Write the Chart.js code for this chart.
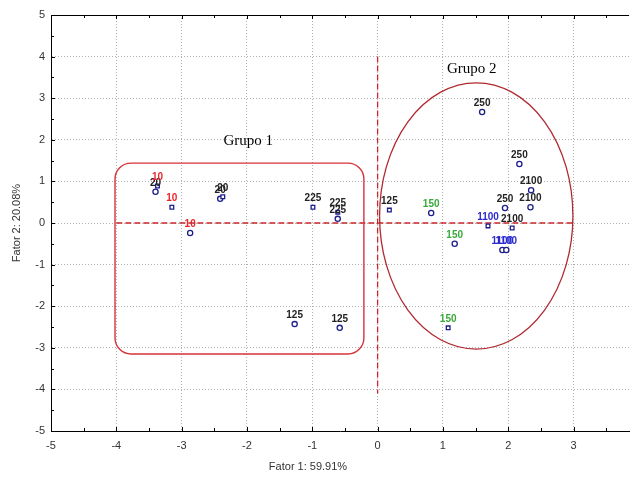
<!DOCTYPE html>
<html><head><meta charset="utf-8">
<script src="https://cdn.jsdelivr.net/npm/chart.js@4/dist/chart.umd.min.js"></script>
<style>html,body{margin:0;padding:0;background:#fff;}canvas{display:block;}</style>
</head><body>
<canvas id="c" width="633" height="477"></canvas>
<script>
// Data
const factor1 = [-3.40,-3.37,-3.15,-2.87,-2.41,-2.37,-0.99,-0.61,-0.61,0.18,-1.27,-0.58,1.60,2.17,2.35,1.95,2.34,0.82,1.18,1.08,1.69,2.06,1.91,1.97];
const factor2 = [0.75,0.89,0.38,-0.24,0.58,0.63,0.38,0.26,0.10,0.31,-2.43,-2.52,2.67,1.42,0.79,0.36,0.38,0.24,-0.50,-2.52,-0.07,-0.12,-0.65,-0.65];
const pointLabels = ["20","10","10","10","20","20","225","225","225","125","125","125","250","250","2100","250","2100","150","150","150","1100","2100","1100","1100"];
const markerShapes = ["circle","rect","rect","circle","circle","rect","rect","rect","circle","rect","circle","circle","circle","circle","circle","circle","circle","circle","circle","rect","rect","rect","circle","circle"];
const xTicks = [-5,-4,-3,-2,-1,0,1,2,3];
const yTicks = [5,4,3,2,1,0,-1,-2,-3,-4,-5];
const groupNames = ["Grupo 1","Grupo 2"];
const axisTitles = ["Fator 1: 59.91%","Fator 2: 20.08%"];

const X_MAX = 3.85;
const labelColors = {"10":"#e8262c","150":"#3aa83a","1100":"#2a2ad0"};
const pts = factor1.map((x,i)=>({x:x,y:factor2[i]}));

const overlay = {
  id:'overlay',
  beforeDatasetsDraw(chart){
    const ctx = chart.ctx, xs = chart.scales.x, ys = chart.scales.y, ca = chart.chartArea;
    ctx.save();
    ctx.strokeStyle = '#000'; ctx.lineWidth = 1;
    ctx.beginPath(); ctx.moveTo(ca.left, Math.round(ca.top)+0.5); ctx.lineTo(ca.right, Math.round(ca.top)+0.5); ctx.stroke();
    for (let v=-5; v<=X_MAX; v+=0.5){
      const px = Math.round(xs.getPixelForValue(v))+0.5;
      const len = (Math.abs(v-Math.round(v))<1e-6)?4:3;
      ctx.beginPath(); ctx.moveTo(px, ca.bottom); ctx.lineTo(px, ca.bottom-len); ctx.stroke();
      ctx.beginPath(); ctx.moveTo(px, ca.top); ctx.lineTo(px, ca.top+len); ctx.stroke();
    }
    for (let v=-5; v<=5; v+=0.5){
      const py = Math.round(ys.getPixelForValue(v))+0.5;
      const len = (Math.abs(v-Math.round(v))<1e-6)?4:3;
      ctx.beginPath(); ctx.moveTo(ca.left, py); ctx.lineTo(ca.left+len, py); ctx.stroke();
    }
    ctx.strokeStyle = '#c8282d'; ctx.lineWidth = 1.3; ctx.setLineDash([6,3]);
    ctx.beginPath();
    ctx.moveTo(xs.getPixelForValue(-4), ys.getPixelForValue(0));
    ctx.lineTo(xs.getPixelForValue(3), ys.getPixelForValue(0));
    ctx.stroke();
    ctx.beginPath();
    ctx.moveTo(xs.getPixelForValue(0), ys.getPixelForValue(4));
    ctx.lineTo(xs.getPixelForValue(0), ys.getPixelForValue(-4.1));
    ctx.stroke();
    ctx.setLineDash([]);
    const x1 = xs.getPixelForValue(-4.02), x2 = xs.getPixelForValue(-0.21);
    const y1 = ys.getPixelForValue(1.44), y2 = ys.getPixelForValue(-3.15);
    ctx.strokeStyle = '#d8323a'; ctx.lineWidth = 1.4;
    ctx.beginPath(); ctx.roundRect(x1, y1, x2-x1, y2-y1, 16); ctx.stroke();
    const cx = xs.getPixelForValue(1.51), cy = ys.getPixelForValue(0.17);
    const rx = xs.getPixelForValue(1.51+1.48)-cx, ry = cy-ys.getPixelForValue(0.17+3.2);
    ctx.strokeStyle = '#b02a30'; ctx.lineWidth = 1.3;
    ctx.beginPath(); ctx.ellipse(cx, cy, rx, ry, 0, 0, Math.PI*2); ctx.stroke();
    ctx.fillStyle = '#000'; ctx.font = '15px "Liberation Serif", serif';
    ctx.textAlign = 'center'; ctx.textBaseline = 'middle';
    ctx.fillText(groupNames[0], xs.getPixelForValue(-1.98), ys.getPixelForValue(1.97));
    ctx.fillText(groupNames[1], xs.getPixelForValue(1.44), ys.getPixelForValue(3.70));
    ctx.restore();
  },
  afterDatasetsDraw(chart){
    const ctx = chart.ctx, xs = chart.scales.x, ys = chart.scales.y, ca = chart.chartArea;
    ctx.save();
    ctx.font = 'bold 10px "Liberation Sans", Arial, sans-serif';
    ctx.textAlign = 'center'; ctx.textBaseline = 'alphabetic';
    pts.forEach((p,i)=>{
      const lbl = pointLabels[i];
      ctx.fillStyle = labelColors[lbl] || '#222';
      ctx.fillText(lbl, xs.getPixelForValue(p.x), ys.getPixelForValue(p.y)-6);
    });
    ctx.fillStyle = '#333'; ctx.font = '11px "Liberation Sans", Arial, sans-serif';
    ctx.textBaseline = 'middle';
    ctx.fillText(axisTitles[0], 308, 467);
    ctx.translate(17, (ca.top+ca.bottom)/2); ctx.rotate(-Math.PI/2);
    ctx.fillText(axisTitles[1], 0, 0);
    ctx.restore();
  }
};

new Chart(document.getElementById('c'), {
  type:'scatter',
  data:{datasets:[{
    data: pts,
    pointStyle: markerShapes,
    pointRadius: 2.6,
    pointHoverRadius: 2.6,
    borderColor:'#1e1e8a',
    backgroundColor:'#ffffff',
    pointBorderWidth:1.3
  }]},
  options:{
    responsive:false, animation:false,
    layout:{padding:{top:15,right:0,left:0,bottom:0}},
    plugins:{legend:{display:false},tooltip:{enabled:false}},
    scales:{
      x:{
        min:-5, max:X_MAX,
        afterBuildTicks(s){ s.ticks = xTicks.map(v=>({value:v})); },
        afterFit(s){ s.height = 46; },
        ticks:{color:'#333', font:{size:11, family:'"Liberation Sans", Arial, sans-serif'}, padding:8},
        grid:{color:(c)=> (c.tick && (c.tick.value===-5)) ? 'rgba(0,0,0,0)' : '#b0b0b0', lineWidth:1, drawTicks:false},
        border:{display:true, color:'#000', width:1, dash:[1,2]},
      },
      y:{
        min:-5, max:5,
        afterBuildTicks(s){ s.ticks = yTicks.map(v=>({value:v})); },
        afterFit(s){ s.width = 51; },
        ticks:{color:'#333', font:{size:11, family:'"Liberation Sans", Arial, sans-serif'}, padding:6},
        grid:{color:(c)=> (c.tick && (c.tick.value===-5 || c.tick.value===5)) ? 'rgba(0,0,0,0)' : '#b0b0b0', lineWidth:1, drawTicks:false},
        border:{display:true, color:'#000', width:1, dash:[1,2]},
      }
    }
  },
  plugins:[overlay]
});
</script>
</body></html>
